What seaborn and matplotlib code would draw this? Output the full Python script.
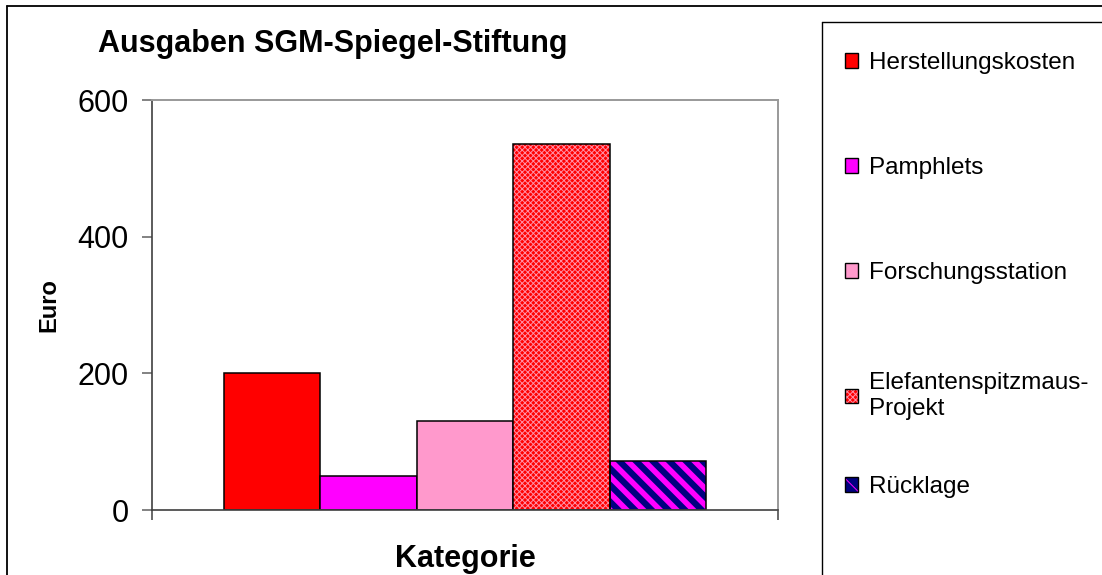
import numpy as np
import pandas as pd
import matplotlib
matplotlib.use("Agg")
import matplotlib.pyplot as plt
from matplotlib.patches import Patch, Rectangle
from matplotlib.lines import Line2D
from matplotlib.legend_handler import HandlerTuple
import seaborn as sns

# Daten
posten = ["Herstellungskosten", "Pamphlets", "Forschungsstation",
          "Elefantenspitzmaus-\nProjekt", "Rücklage"]
euro = [200, 50, 130, 535, 72]
farben = ["#FF0000", "#FF00FF", "#FF99CC", "#FF0000", "#000080"]
muster = [None, None, None, "xxxxxx", "\\\\"]
musterfarben = [None, None, None, "#FF8FA8", "#FF00FF"]
yticks = [0, 200, 400, 600]

sns.set_theme(style="white")
plt.rcParams["font.family"] = ["Liberation Sans", "DejaVu Sans"]
plt.rcParams["text.color"] = "black"
plt.rcParams["axes.labelcolor"] = "black"
plt.rcParams["xtick.labelcolor"] = "black"
plt.rcParams["ytick.labelcolor"] = "black"
plt.rcParams["hatch.linewidth"] = 0.7

df = pd.DataFrame({"Kategorie": ["Ausgaben"] * len(posten),
                   "Posten": posten, "Euro": euro})

fig = plt.figure(figsize=(11.02, 5.75), dpi=100)
ax = fig.add_axes([152 / 1102, 1 - 510 / 575, 626 / 1102, 410 / 575])

sns.barplot(data=df, x="Kategorie", y="Euro", hue="Posten",
            palette=dict(zip(posten, farben)), width=0.77, gap=0,
            saturation=1, edgecolor="black", linewidth=1.1,
            legend=False, ax=ax)

# Muster auf einzelne Balken
for bar, h, hc in zip(ax.patches, muster, musterfarben):
    if h is None:
        continue
    bar.set_hatch(h)
    bar.set_edgecolor(hc)
    bar.set_linewidth(0)
    if h.startswith("\\") and hasattr(bar, "set_hatch_linewidth"):
        bar.set_hatch_linewidth(4.0)
    ax.add_patch(Rectangle((bar.get_x(), bar.get_y()), bar.get_width(),
                           bar.get_height(), fill=False, edgecolor="black",
                           linewidth=1.1, zorder=bar.get_zorder() + 0.1))

ax.set_xlim(-0.5, 0.5)
ax.set_ylim(0, 600)
ax.set_yticks(yticks)
ax.set_xticks([-0.5, 0.5])
ax.set_xticklabels(["", ""])
ax.tick_params(axis="y", labelsize=22, length=7, width=1.1,
               direction="out", pad=10, color="#606060", left=True,
               labelcolor="black")
ax.tick_params(axis="x", length=7, width=1.1, direction="out",
               color="#404040", bottom=True)

for s in ["top", "right"]:
    ax.spines[s].set_color("#999999")
    ax.spines[s].set_linewidth(1.4)
for s in ["left", "bottom"]:
    ax.spines[s].set_color("#404040")
    ax.spines[s].set_linewidth(1.2)

ax.set_ylabel("Euro", fontsize=17, fontweight="bold", labelpad=12,
              color="black")
ax.set_xlabel("Kategorie", fontsize=22, fontweight="bold", labelpad=14,
              color="black")

fig.text(98 / 1102, 1 - 52 / 575, "Ausgaben SGM-Spiegel-Stiftung",
         fontsize=22, fontweight="bold", va="baseline", ha="left",
         color="black")

# Rahmen (Diagramm und Legende)
fig.add_artist(Line2D([7 / 1102, 1.0], [1 - 6 / 575] * 2, color="black", lw=1.3))
fig.add_artist(Line2D([7 / 1102] * 2, [0, 1 - 6 / 575], color="black", lw=1.3))
fig.add_artist(Line2D([822 / 1102, 1.0], [1 - 22 / 575] * 2, color="black", lw=1.0))
fig.add_artist(Line2D([822 / 1102] * 2, [0, 1 - 22 / 575], color="black", lw=1.0))

# Legende: jeder Eintrag einzeln
legend_y = [63, 168, 273, 396, 487]
for lab, fc, h, hc, y in zip(posten, farben, muster, musterfarben, legend_y):
    if h is None:
        handle = Patch(facecolor=fc, edgecolor="black", linewidth=1.0)
    else:
        handle = (Patch(facecolor=fc, edgecolor=hc, hatch=h, linewidth=0),
                  Patch(fill=False, edgecolor="black", linewidth=1.0))
    leg = fig.legend(handles=[handle], labels=[lab], loc="center left",
                     bbox_to_anchor=(845 / 1102, 1 - y / 575), frameon=False,
                     fontsize=17.5, handlelength=0.55, handleheight=0.55,
                     handletextpad=0.45, borderpad=0, borderaxespad=0,
                     handler_map={tuple: HandlerTuple(ndivide=1)})
    for t in leg.get_texts():
        t.set_color("black")

fig.savefig("out.png", dpi=100)
